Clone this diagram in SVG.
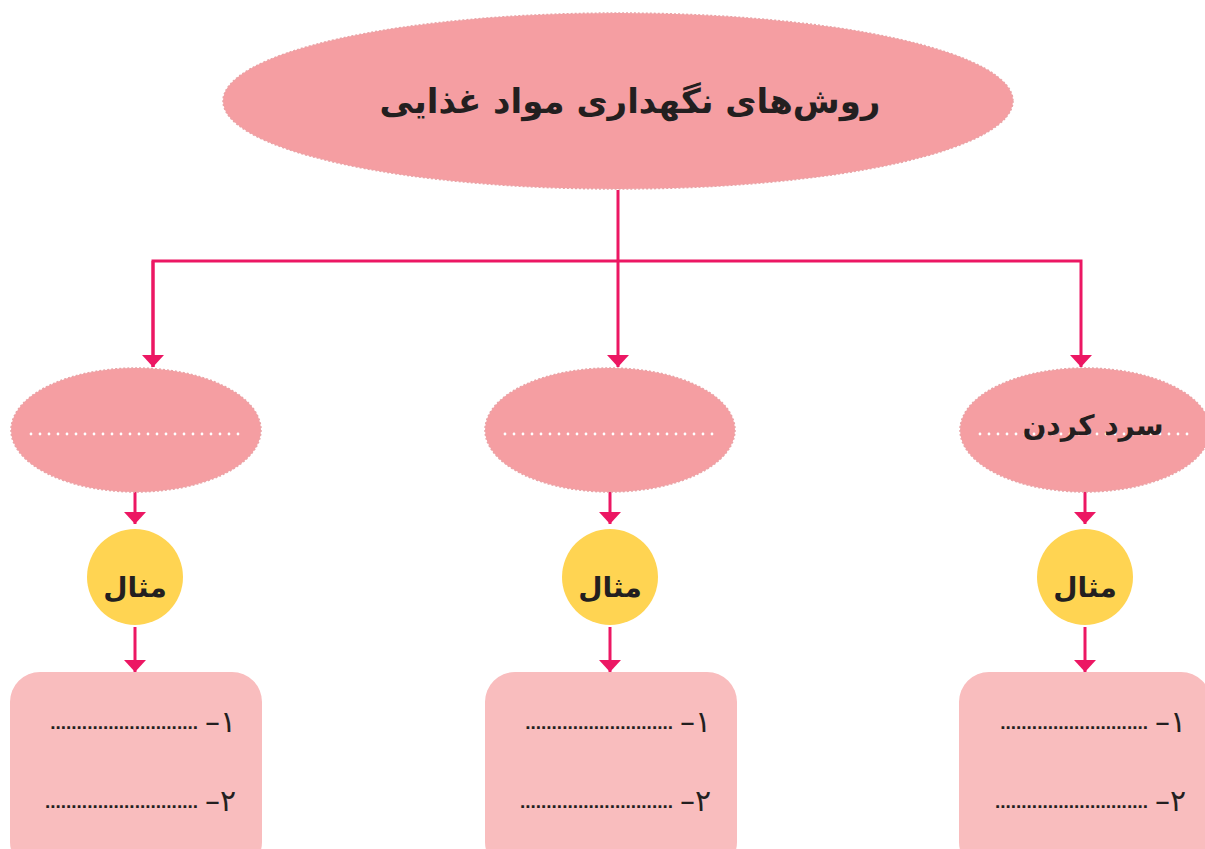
<svg xmlns="http://www.w3.org/2000/svg" width="1205" height="849" viewBox="0 0 1205 849">
<defs>
<style>
.ell{fill:#F59EA2;stroke:#E9A3A6;stroke-width:1.5;stroke-dasharray:2 2}
.dots{stroke:#ffffff;stroke-width:2.8;stroke-linecap:round;stroke-dasharray:0 9;fill:none}
.circ{fill:#FFD452}
.box{fill:#F9BDBE}
.conn{stroke:#EC1763;stroke-width:3;fill:none}
.fa{font-family:"DejaVu Sans",sans-serif;font-weight:bold;fill:#231F20}
.lbl{font-size:28px;text-anchor:middle}
.num{font-size:30px;font-weight:normal}
.fill{font-family:"Liberation Sans",sans-serif;font-weight:bold;font-size:19px;fill:#231F20;text-anchor:end}
</style>
<marker id="ah" markerUnits="userSpaceOnUse" viewBox="0 0 12 22" refX="12" refY="11" markerWidth="12" markerHeight="22" orient="auto">
<path d="M0,0 L12,11 L0,22 z" fill="#EC1763"/>
</marker>
</defs>
<rect width="1205" height="849" fill="#ffffff"/>
<g id="connectors">
<line class="conn" x1="618" y1="190" x2="618" y2="367" marker-end="url(#ah)"/>
<polyline class="conn" points="153,367 153,261 1081,261 1081,367" marker-end="url(#ah)"/>
<line class="conn" x1="153" y1="261" x2="153" y2="367" marker-end="url(#ah)"/>
<line class="conn" x1="135" y1="492" x2="135" y2="524" marker-end="url(#ah)"/>
<line class="conn" x1="610" y1="492" x2="610" y2="524" marker-end="url(#ah)"/>
<line class="conn" x1="1085" y1="492" x2="1085" y2="524" marker-end="url(#ah)"/>
<line class="conn" x1="135" y1="627" x2="135" y2="672" marker-end="url(#ah)"/>
<line class="conn" x1="610" y1="627" x2="610" y2="672" marker-end="url(#ah)"/>
<line class="conn" x1="1085" y1="627" x2="1085" y2="672" marker-end="url(#ah)"/>
</g>
<g id="root">
<ellipse class="ell" cx="618" cy="101" rx="395" ry="88"/>
<text class="fa" x="630" y="113" font-size="34" text-anchor="middle" direction="rtl">روش‌های نگهداری مواد غذایی</text>
</g>
<g id="method-left">
<ellipse class="ell" cx="136" cy="430" rx="125" ry="62"/>
<line class="dots" x1="31" y1="434" x2="240" y2="434"/>
</g>
<g id="method-middle">
<ellipse class="ell" cx="610" cy="430" rx="125" ry="62"/>
<line class="dots" x1="505" y1="434" x2="715" y2="434"/>
</g>
<g id="method-right">
<ellipse class="ell" cx="1085" cy="430" rx="125" ry="62"/>
<line class="dots" x1="980" y1="434" x2="1190" y2="434"/>
<text class="fa lbl" x="1093" y="435" direction="rtl">سرد کردن</text>
</g>
<g id="example-left">
<circle class="circ" cx="135" cy="577" r="48"/>
<text class="fa lbl" x="135" y="597" font-size="30">مثال</text>
</g>
<g id="example-middle">
<circle class="circ" cx="610" cy="577" r="48"/>
<text class="fa lbl" x="610" y="597" font-size="30">مثال</text>
</g>
<g id="example-right">
<circle class="circ" cx="1085" cy="577" r="48"/>
<text class="fa lbl" x="1085" y="597" font-size="30">مثال</text>
</g>
<g id="list-left">
<rect class="box" x="10" y="672" width="252" height="200" rx="30"/>
<text class="fa num" x="236" y="732" direction="rtl" text-anchor="start">۱–</text>
<text class="fill" x="198" y="729">............................</text>
<text class="fa num" x="236" y="811" direction="rtl" text-anchor="start">۲–</text>
<text class="fill" x="198" y="808">.............................</text>
</g>
<g id="list-middle">
<rect class="box" x="485" y="672" width="252" height="200" rx="30"/>
<text class="fa num" x="711" y="732" direction="rtl" text-anchor="start">۱–</text>
<text class="fill" x="673" y="729">............................</text>
<text class="fa num" x="711" y="811" direction="rtl" text-anchor="start">۲–</text>
<text class="fill" x="673" y="808">.............................</text>
</g>
<g id="list-right">
<rect class="box" x="959" y="672" width="252" height="200" rx="30"/>
<text class="fa num" x="1186" y="732" direction="rtl" text-anchor="start">۱–</text>
<text class="fill" x="1148" y="729">............................</text>
<text class="fa num" x="1186" y="811" direction="rtl" text-anchor="start">۲–</text>
<text class="fill" x="1148" y="808">.............................</text>
</g>
</svg>
